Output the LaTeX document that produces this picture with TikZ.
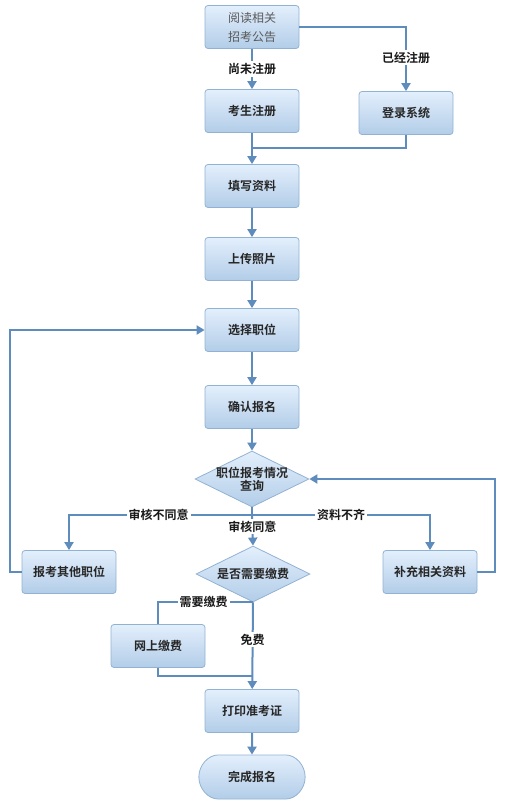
\documentclass[tikz,border=0pt]{standalone}
\usepackage{fontspec}
\newfontfamily\cjk{Noto Sans CJK SC}[BoldFont={Noto Sans CJK SC Bold}]
\usetikzlibrary{arrows.meta,shapes.geometric,shapes.misc}

\definecolor{boxtop}{HTML}{E3EFFC}
\definecolor{boxbot}{HTML}{B2CDE8}
\definecolor{boxedge}{HTML}{92B2D3}
\definecolor{flow}{HTML}{5E8CBC}

\tikzset{
  stepbox/.style={draw=boxedge, line width=0.8pt, rounded corners=3pt,
    top color=boxtop, bottom color=boxbot, minimum width=94pt, minimum height=43pt,
    font=\cjk\bfseries\fontsize{12}{14}\selectfont, text=black!85},
  decide/.style={diamond, draw=boxedge, line width=0.8pt, top color=boxtop,
    bottom color=boxbot, minimum width=114pt, minimum height=56pt, inner sep=0pt},
  inside/.style={font=\cjk\bfseries\fontsize{12}{13}\selectfont, text=black!85, align=center},
  endbox/.style={stepbox, rounded rectangle, minimum width=113pt, minimum height=44pt},
  flowline/.style={draw=flow, line width=2pt},
  flowarrow/.style={-{Triangle[width=9pt,length=8pt]}},
  lbl/.style={fill=white, inner sep=2pt, font=\cjk\bfseries\fontsize{12}{14}\selectfont, text=black!90}
}

\begin{document}
\begin{tikzpicture}[x=1pt, y=-1pt]
  \useasboundingbox (0,0) rectangle (508,806);
  % boxes of the main column
  \node[stepbox, align=center, text=black!65, font=\cjk\fontsize{12}{19}\selectfont] (read) at (252,27) {阅读相关\\招考公告};
  \node[stepbox] (reg) at (252,111) {考生注册};
  \node[stepbox] (login) at (406,113) {登录系统};
  \node[stepbox] (fill) at (252,186) {填写资料};
  \node[stepbox] (photo) at (252,259) {上传照片};
  \node[stepbox] (pick) at (252,330) {选择职位};
  \node[stepbox] (confirm) at (252,407) {确认报名};
  \node[decide] (query) at (252,479) {};
  \node[inside] at (query) {职位报考情况\\查询};
  \node[stepbox] (other) at (69,572) {报考其他职位};
  \node[stepbox] (supp) at (430,572) {补充相关资料};
  \node[decide] (pay) at (253,574) {};
  \node[inside] at (pay) {是否需要缴费};
  \node[stepbox] (online) at (158,646) {网上缴费};
  \node[stepbox] (print) at (252,711) {打印准考证};
  \node[endbox] (done) at (252,777) {完成报名};
  % join points
  \coordinate (join) at (252,148);
  \coordinate (split) at (252,515);
  \coordinate (payjoin) at (252,676);
  % connectors
  \draw[flowline, flowarrow] (read) -- node[lbl] {尚未注册} (reg);
  \draw[flowline, flowarrow] (read.east) -| node[lbl, pos=0.74] {已经注册} (login);
  \draw[flowline] (login) |- (join);
  \draw[flowline, flowarrow] (reg) -- (fill);
  \draw[flowline, flowarrow] (fill) -- (photo);
  \draw[flowline, flowarrow] (photo) -- (pick);
  \draw[flowline, flowarrow] (pick) -- (confirm);
  \draw[flowline, flowarrow] (confirm) -- (query);
  \draw[flowline] (query.south) -- (split);
  \draw[flowline, flowarrow] (split) -| node[lbl, pos=0.255] {审核不同意} (other);
  \draw[flowline, flowarrow] (split) -| node[lbl, pos=0.25] {资料不齐} (supp);
  \draw[flowline, flowarrow] (split) -- node[lbl, pos=0.38] {审核同意} (pay.north);
  \draw[flowline, flowarrow] (other.west) -- ([xshift=-12pt]other.west) |- (pick.west);
  \draw[flowline, flowarrow] (supp.east) -- ([xshift=18pt]supp.east) |- (query.east);
  \draw[flowline] (pay.south) -| node[lbl, pos=0.26] {需要缴费} (online);
  \draw[flowline] (online) |- (payjoin);
  \draw[flowline, flowarrow] (pay.south) -- node[lbl, pos=0.43] {免费} (print);
  \draw[flowline, flowarrow] (print) -- (done);
\end{tikzpicture}
\end{document}
